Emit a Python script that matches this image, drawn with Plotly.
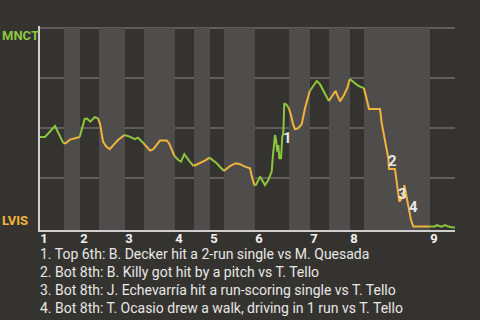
import bisect
import plotly.graph_objects as go

# ---- data (game progress units, win probability for MNCT in %) ----
progress = [0, 5, 15, 23.5, 26, 30, 34.7, 39.7, 43, 44.7, 47, 50.3, 54.7, 58,
            60.3, 63, 66.3, 69.7, 78, 84.5, 89.7, 94.7, 98, 101.3, 103.5,
            107.3, 110, 113.3, 120, 126.7, 129, 134.5, 138.3, 141, 144.3, 149,
            153.5, 160, 165, 169.5, 176.7, 182.3, 183.8, 190, 195.7, 200, 205,
            210, 211.7, 214.5, 216, 220, 222.7, 225, 228.3, 231.7, 232.7, 234,
            235, 236, 237.3, 238.3, 239.3, 241, 242.3, 243.3, 244.3, 246.7,
            248.8, 251, 253.3, 255, 258.3, 261.7, 265, 268.3, 269.8, 272.7,
            276.7, 280, 285, 288.8, 293, 295.5, 300, 304, 307.3, 309.8, 313.3,
            316.7, 320, 323.8, 325, 326.7, 329, 340, 341.7, 343.3, 345, 346.7,
            348.3, 349, 355, 356, 357.7, 359.3, 360.7, 363.3, 364.3, 365.7,
            367.7, 369, 371, 373.3, 389.8, 395, 396.7, 401.7, 405, 408.3,
            411.7, 415]
win_prob = [45.5, 45.5, 51, 42.3, 42.5, 44.2, 44.9, 45.5, 51.5, 54.5, 54.7,
            53.2, 55.4, 54.9, 51.5, 43.2, 40.7, 39.4, 44, 46.5, 45.7, 44.4,
            45.2, 43.5, 42.4, 39.9, 38.7, 39.4, 43.7, 43.7, 42.4, 36, 34, 33.2,
            36.9, 33.7, 31, 32.4, 33.7, 35.2, 32.4, 29.4, 28.5, 31, 32.4, 31.9,
            30.7, 29.9, 26, 21.3, 21.5, 25.7, 23.5, 21.5, 24, 28.2, 34.9, 41.5,
            46.5, 44, 38.2, 41.5, 34.9, 34.9, 45.7, 47.4, 62.4, 61.5, 59.9,
            56.5, 51.5, 49.4, 49.9, 51.9, 59.9, 65.2, 68.5, 70.7, 73.5, 71.9,
            67.4, 63.5, 66.5, 68.5, 63.3, 66.5, 70, 74.5, 73, 71.7, 70.7, 70,
            68, 64.5, 59.5, 59.5, 52.4, 48.2, 44, 39, 34.9, 29.5, 29.5, 25.7,
            19, 13.2, 14, 16.5, 21.5, 17.4, 12.4, 8.2, 4, 0.7, 0.7, 0.7, 1.4,
            0.7, 1.4, 0.7, 0.4, 0.2]
half_starts = [0, 24, 40, 59, 85, 104, 135, 154, 170, 184, 215, 249, 270, 289,
               310, 324, 390]
game_end = 415
grid_values = [25, 50, 75, 100]
inning_labels = ["1", "2", "3", "4", "5", "6", "7", "8", "9"]
away_team = "MNCT"
home_team = "LVIS"
event_marks = ["1", "2", "3", "4"]
event_x = [247, 352, 362, 373]
event_y = [45, 33.5, 17, 10.5]
event_texts = [
    "1. Top 6th: B. Decker hit a 2-run single vs M. Quesada",
    "2. Bot 8th: B. Killy got hit by a pitch vs T. Tello",
    "3. Bot 8th: J. Echevarría hit a run-scoring single vs T. Tello",
    "4. Bot 8th: T. Ocasio drew a walk, driving in 1 run vs T. Tello",
]

# ---- style ----
BG = "#353330"
BAND = "#4e4d4b"
GREEN = "#8cc63f"
ORANGE = "#f0b43c"
GRID = "#8a8a88"
AXIS = "#cfcfcf"
TEXT = "#e8e8e6"
FONT = "Roboto"
W, H = 480, 320
Y_MIN, Y_MAX = -1, 101

fig = go.Figure()

# line segments by half inning
half_of = [bisect.bisect_right(half_starts, x) - 1 for x in progress]
n_half = len(half_starts)
for h in range(n_half):
    idx = [i for i, hh in enumerate(half_of) if hh == h]
    if not idx:
        continue
    if idx[0] > 0:
        idx = [idx[0] - 1] + idx
    fig.add_trace(go.Scatter(
        x=[progress[i] for i in idx], y=[win_prob[i] for i in idx],
        mode="lines", line=dict(color=GREEN if h % 2 == 0 else ORANGE, width=2),
        hoverinfo="skip", showlegend=False))

# bottom-half shading
bounds = half_starts + [game_end]
for h in range(1, n_half, 2):
    fig.add_shape(type="rect", xref="x", yref="y",
                  x0=bounds[h], x1=bounds[h + 1], y0=Y_MIN, y1=100,
                  fillcolor=BAND, line=dict(width=0), layer="below")
# horizontal grid lines (above the shading)
for g in grid_values:
    fig.add_shape(type="line", xref="x domain", yref="y",
                  x0=0, x1=1, y0=g, y1=g,
                  line=dict(color=GRID, width=1), layer="below")

annotations = []
for t, x, y in zip(event_marks, event_x, event_y):
    annotations.append(dict(x=x, y=y, xref="x", yref="y", text="<b>%s</b>" % t,
                            showarrow=False, font=dict(family=FONT, size=15, color=TEXT)))

annotations.append(dict(x=0 / W, y=1 - 35 / H, xref="paper", yref="paper",
                        text="<b>%s</b>" % away_team, showarrow=False,
                        xanchor="left", yanchor="middle",
                        font=dict(family=FONT, size=13, color=GREEN)))
annotations.append(dict(x=0 / W, y=1 - 220 / H, xref="paper", yref="paper",
                        text="<b>%s</b>" % home_team, showarrow=False,
                        xanchor="left", yanchor="middle",
                        font=dict(family=FONT, size=13, color=ORANGE)))

for k, txt in enumerate(event_texts):
    annotations.append(dict(x=38 / W, y=1 - (254 + 18 * k) / H, xref="paper", yref="paper",
                            text=txt, showarrow=False, xanchor="left", yanchor="middle",
                            font=dict(family=FONT, size=14, color=TEXT)))

fig.update_layout(
    width=W, height=H,
    margin=dict(l=0, r=0, t=0, b=0),
    paper_bgcolor=BG, plot_bgcolor=BG,
    showlegend=False,
    annotations=annotations,
    xaxis=dict(domain=[40 / W, 455 / W], range=[0, game_end],
               tickvals=half_starts[0::2], ticktext=inning_labels,
               ticks="", ticklabelshift=4, ticklabelstandoff=-5,
               tickfont=dict(family=FONT, size=13, color="#f2f2f2", weight="bold"),
               showgrid=False, zeroline=False,
               showline=True, linecolor=AXIS, linewidth=2, fixedrange=True),
    yaxis=dict(domain=[1 - 230 / H, 1 - 26 / H], range=[Y_MIN, Y_MAX],
               showticklabels=False, ticks="",
               showgrid=False, zeroline=False,
               showline=True, linecolor=AXIS, linewidth=2, fixedrange=True),
)

fig.write_html("out.html")
